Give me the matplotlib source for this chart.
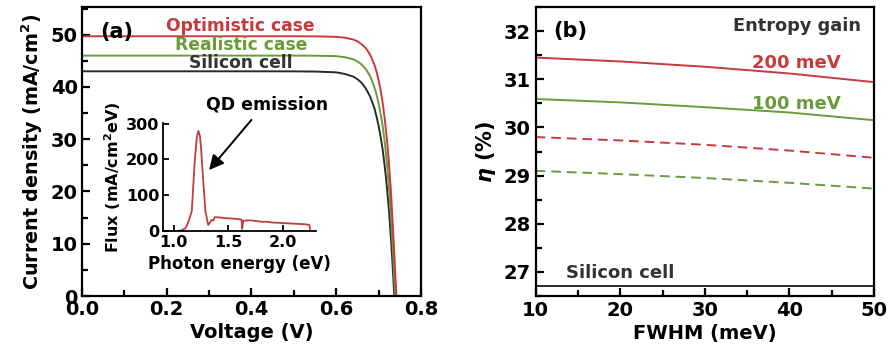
import matplotlib
matplotlib.use("Agg")
import matplotlib.pyplot as plt
from matplotlib.ticker import MultipleLocator

plt.rcParams['font.family'] = ['DejaVu Sans']
plt.rcParams['font.weight'] = 'bold'
plt.rcParams['axes.labelweight'] = 'bold'
plt.rcParams['mathtext.fontset'] = 'custom'
plt.rcParams['mathtext.rm'] = 'DejaVu Sans:bold'
plt.rcParams['mathtext.bf'] = 'DejaVu Sans:bold'
plt.rcParams['mathtext.it'] = 'DejaVu Sans:bold:italic'

RED = '#C63A3C'
GREEN = '#6A9B3A'
DARK = '#2A2A2A'
TXT = '#333333'

# ---------------- Panel (a): J-V curves ----------------
voltage = [0.0, 0.1, 0.2, 0.3, 0.4, 0.5, 0.55, 0.6, 0.62, 0.64, 0.65, 0.66,
           0.67, 0.68, 0.69, 0.695, 0.70, 0.705, 0.71, 0.715, 0.72, 0.725,
           0.73, 0.735]
j_optimistic = [49.7, 49.7, 49.7, 49.7, 49.7, 49.7, 49.69, 49.6, 49.44, 49.08,
                48.75, 48.2, 47.4, 46.2, 44.3, 43.0, 41.3, 39.3, 36.8, 33.6,
                29.8, 24.9, 18.9, 11.4]
j_realistic = [46.0, 46.0, 46.0, 46.0, 46.0, 46.0, 45.98, 45.9, 45.7, 45.3,
               44.9, 44.3, 43.4, 42.1, 40.0, 38.6, 36.9, 34.8, 32.3, 29.1,
               25.2, 20.3, 14.4, 7.1]
j_silicon = [43.0, 43.0, 43.0, 43.0, 43.0, 42.99, 42.95, 42.8, 42.5, 42.0,
             41.5, 40.8, 39.7, 38.2, 36.0, 34.4, 32.6, 30.4, 27.8, 24.5,
             20.6, 15.9, 10.1, 3.2]
voc_optimistic = 0.742
voc_realistic = 0.739
voc_silicon = 0.737

# ---------------- Inset: QD emission spectrum ----------------
photon_energy = [1.05, 1.08, 1.11, 1.14, 1.165, 1.19, 1.21, 1.225, 1.24, 1.25,
                 1.27, 1.29, 1.315, 1.33, 1.345, 1.36, 1.375, 1.42, 1.48, 1.54,
                 1.60, 1.62, 1.625, 1.635, 1.70, 1.76, 1.80, 1.85, 1.90, 1.96,
                 2.02, 2.08, 2.14, 2.20, 2.24, 2.245]
flux = [0, 2, 8, 30, 55, 185, 260, 280, 265, 230,
        137, 54, 16, 22, 30, 28, 38, 37, 35, 34,
        32, 31, 5, 28, 29, 27, 25, 25, 23, 22,
        21, 20, 19, 18, 16, 0]

# ---------------- Panel (b): efficiency vs FWHM ----------------
fwhm = [10, 20, 30, 40, 50]
eta_200_solid = [31.45, 31.37, 31.26, 31.12, 30.94]
eta_100_solid = [30.59, 30.52, 30.42, 30.31, 30.15]
eta_200_dashed = [29.80, 29.73, 29.64, 29.52, 29.37]
eta_100_dashed = [29.10, 29.03, 28.95, 28.85, 28.73]
eta_silicon = 26.70

fig = plt.figure(figsize=(8.89, 3.56), dpi=100)

def style_axes(ax, lw=1.6):
    for s in ax.spines.values():
        s.set_linewidth(lw)
    ax.tick_params(which='both', direction='in', width=lw, labelsize=14)
    ax.tick_params(which='major', length=6)
    ax.tick_params(which='minor', length=4)
    ax.tick_params(top=False, right=False, which='both')

# Panel a
axa = fig.add_axes([0.0922, 0.1685, 0.3813, 0.8118])
lw = 1.4
axa.plot(voltage + [voc_silicon], j_silicon + [0], color=DARK, lw=lw)
axa.plot(voltage + [voc_realistic], j_realistic + [0], color=GREEN, lw=lw)
axa.plot(voltage + [voc_optimistic], j_optimistic + [0], color=RED, lw=lw)
axa.set_xlim(0, 0.8)
axa.set_ylim(0, 55.3)
axa.xaxis.set_major_locator(MultipleLocator(0.2))
axa.xaxis.set_minor_locator(MultipleLocator(0.1))
axa.yaxis.set_major_locator(MultipleLocator(10))
axa.yaxis.set_minor_locator(MultipleLocator(5))
style_axes(axa)
axa.tick_params(axis='x', pad=3)
axa.tick_params(axis='y', pad=3)
axa.set_xlabel('Voltage (V)', fontsize=14, labelpad=3)
axa.set_ylabel('Current density (mA/cm$^{2}$)', fontsize=13.8, labelpad=4)
axa.text(0.042, 50.6, '(a)', fontsize=15, va='center', ha='left')
axa.text(0.374, 51.6, 'Optimistic case', fontsize=12.3, color=RED, ha='center', va='center')
axa.text(0.375, 48.1, 'Realistic case', fontsize=12.3, color=GREEN, ha='center', va='center')
axa.text(0.374, 44.5, 'Silicon cell', fontsize=12.3, color=TXT, ha='center', va='center')
axa.text(0.437, 36.6, 'QD emission', fontsize=12.5, color='black', ha='center', va='center')
axa.annotate('', xy=(0.300, 24.1), xytext=(0.400, 33.7),
             arrowprops=dict(arrowstyle='-|>', color='black', lw=1.4,
                             mutation_scale=22, shrinkA=0, shrinkB=0))

# Inset
axi = fig.add_axes([0.1837, 0.352, 0.1718, 0.3025])
axi.patch.set_alpha(0)
axi.plot(photon_energy, flux, color=RED, lw=1.3)
axi.set_xlim(0.905, 2.30)
axi.set_ylim(0, 302)
axi.spines['top'].set_visible(False)
axi.spines['right'].set_visible(False)
axi.xaxis.set_major_locator(MultipleLocator(0.5))
axi.yaxis.set_major_locator(MultipleLocator(100))
for s in axi.spines.values():
    s.set_linewidth(1.3)
axi.tick_params(which='both', direction='in', width=1.3, length=4, labelsize=11.5, pad=3)
axi.set_xlabel('Photon energy (eV)', fontsize=12, labelpad=4)
axi.set_ylabel('Flux (mA/cm$^{2}$eV)', fontsize=11.5, labelpad=2)

# Panel b
axb = fig.add_axes([0.6026, 0.1685, 0.3805, 0.8118])
axb.plot(fwhm, eta_200_solid, color=RED, lw=1.4)
axb.plot(fwhm, eta_100_solid, color=GREEN, lw=1.4)
axb.plot(fwhm, eta_200_dashed, color=RED, lw=1.4, dashes=(5, 3))
axb.plot(fwhm, eta_100_dashed, color=GREEN, lw=1.4, dashes=(5, 3))
axb.axhline(eta_silicon, color=DARK, lw=1.4)
axb.set_xlim(10, 50)
axb.set_ylim(26.5, 32.5)
axb.xaxis.set_major_locator(MultipleLocator(10))
axb.xaxis.set_minor_locator(MultipleLocator(5))
axb.yaxis.set_major_locator(MultipleLocator(1))
axb.yaxis.set_minor_locator(MultipleLocator(0.5))
style_axes(axb)
axb.set_xlabel('FWHM (meV)', fontsize=14, labelpad=3)
axb.set_ylabel(r'$\eta$ (%)', fontsize=15, labelpad=4)
axb.text(12.1, 32.0, '(b)', fontsize=15, va='center', ha='left')
axb.text(48.5, 32.1, 'Entropy gain', fontsize=12.8, color=TXT, ha='right', va='center')
axb.text(46.0, 31.34, '200 meV', fontsize=13, color=RED, ha='right', va='center')
axb.text(46.0, 30.49, '100 meV', fontsize=13, color=GREEN, ha='right', va='center')
axb.text(13.6, 26.98, 'Silicon cell', fontsize=13, color=TXT, ha='left', va='center')

fig.savefig('out.png', dpi=100)
